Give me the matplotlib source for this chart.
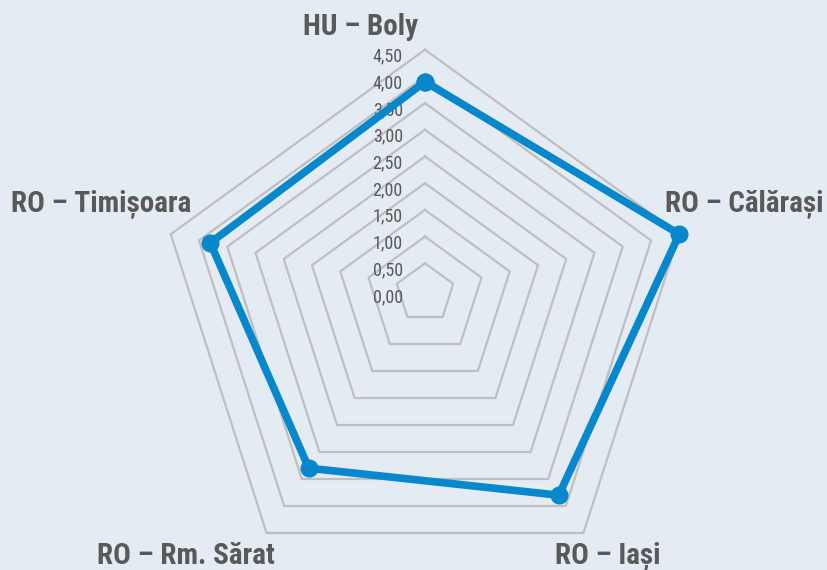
import numpy as np
import matplotlib
matplotlib.use("Agg")
import matplotlib.pyplot as plt
from matplotlib import font_manager

# data
categories = ['HU – Boly', 'RO – Călărași', 'RO – Iași', 'RO – Rm. Sărat', 'RO – Timișoara']
values = [3.9, 4.5, 3.8, 3.3, 3.8]
grid_levels = [0.5, 1.0, 1.5, 2.0, 2.5, 3.0, 3.5, 4.0, 4.5]
tick_values = [0.0, 0.5, 1.0, 1.5, 2.0, 2.5, 3.0, 3.5, 4.0, 4.5]
tick_labels = ['0,00', '0,50', '1,00', '1,50', '2,00', '2,50', '3,00', '3,50', '4,00', '4,50']

# layout: centre of the radar and spoke vectors (pixels per unit value)
center = np.array([425.0, 290.0])
spokes = np.array([
    [0.0, -53.4],     # top
    [56.5, -12.4],    # right
    [35.2, 54.0],     # bottom right
    [-35.2, 54.0],    # bottom left
    [-56.5, -12.4],   # left
])
# label anchors (x, baseline) and alignment
label_pos = [(361, 35, 'center'), (824, 212, 'right'), (608, 564, 'center'),
             (186, 564, 'center'), (11, 212, 'left')]

names = {f.name for f in font_manager.fontManager.ttflist}
cands = ['Liberation Sans Narrow', 'Roboto Condensed', 'Open Sans Condensed',
         'Roboto', 'Liberation Sans']
narrow = next((c for c in cands if c in names), 'DejaVu Sans')
fam = [narrow, 'DejaVu Sans']

bg = '#E5EBF2'
grid_col = '#BFBFBF'
line_col = '#0787CC'
text_col = '#595959'

fig = plt.figure(figsize=(8.28, 5.70), dpi=100, facecolor=bg)
ax = fig.add_axes([0, 0, 1, 1])
ax.set_facecolor(bg)
ax.set_xlim(0, 828)
ax.set_ylim(570, 0)
ax.axis('off')
renderer = fig.canvas.get_renderer()


def fit_size(txt, target_px, base=20, **kw):
    # font size that gives the text the width seen in the reference
    t = fig.text(0, 0, txt, fontsize=base, family=fam, **kw)
    w = t.get_window_extent(renderer).width
    t.remove()
    return base * target_px / w


def to_xy(vals):
    vals = np.asarray(vals, dtype=float)[:, None]
    pts = center + vals * spokes
    return np.vstack([pts, pts[:1]])


# pentagon grid
for lv in grid_levels:
    pts = to_xy([lv] * len(categories))
    ax.plot(pts[:, 0], pts[:, 1], color=grid_col, lw=1.6, zorder=1)

# radial tick labels along the top spoke
tick_fs = min(13, fit_size('0,00', 31))
for v, lab in zip(tick_values, tick_labels):
    x, y = center + v * spokes[0]
    ax.annotate(lab, (x, y), xytext=(-16, -5), textcoords='offset points',
                ha='right', va='center', fontsize=tick_fs, color=text_col,
                family=fam, zorder=2)

# data series
pts = to_xy(values)
ax.plot(pts[:, 0], pts[:, 1], color=line_col, lw=5.5, marker='o', ms=12,
        solid_joinstyle='round', zorder=3)

# category labels
cat_fs = min(21, fit_size('RO – Rm. Sărat', 178, fontweight='bold'))
for lab, (x, y, ha) in zip(categories, label_pos):
    ax.text(x, y, lab, ha=ha, va='baseline', fontsize=cat_fs, fontweight='bold',
            color=text_col, family=fam, zorder=4)

fig.savefig('out.png', dpi=100, facecolor=bg)
